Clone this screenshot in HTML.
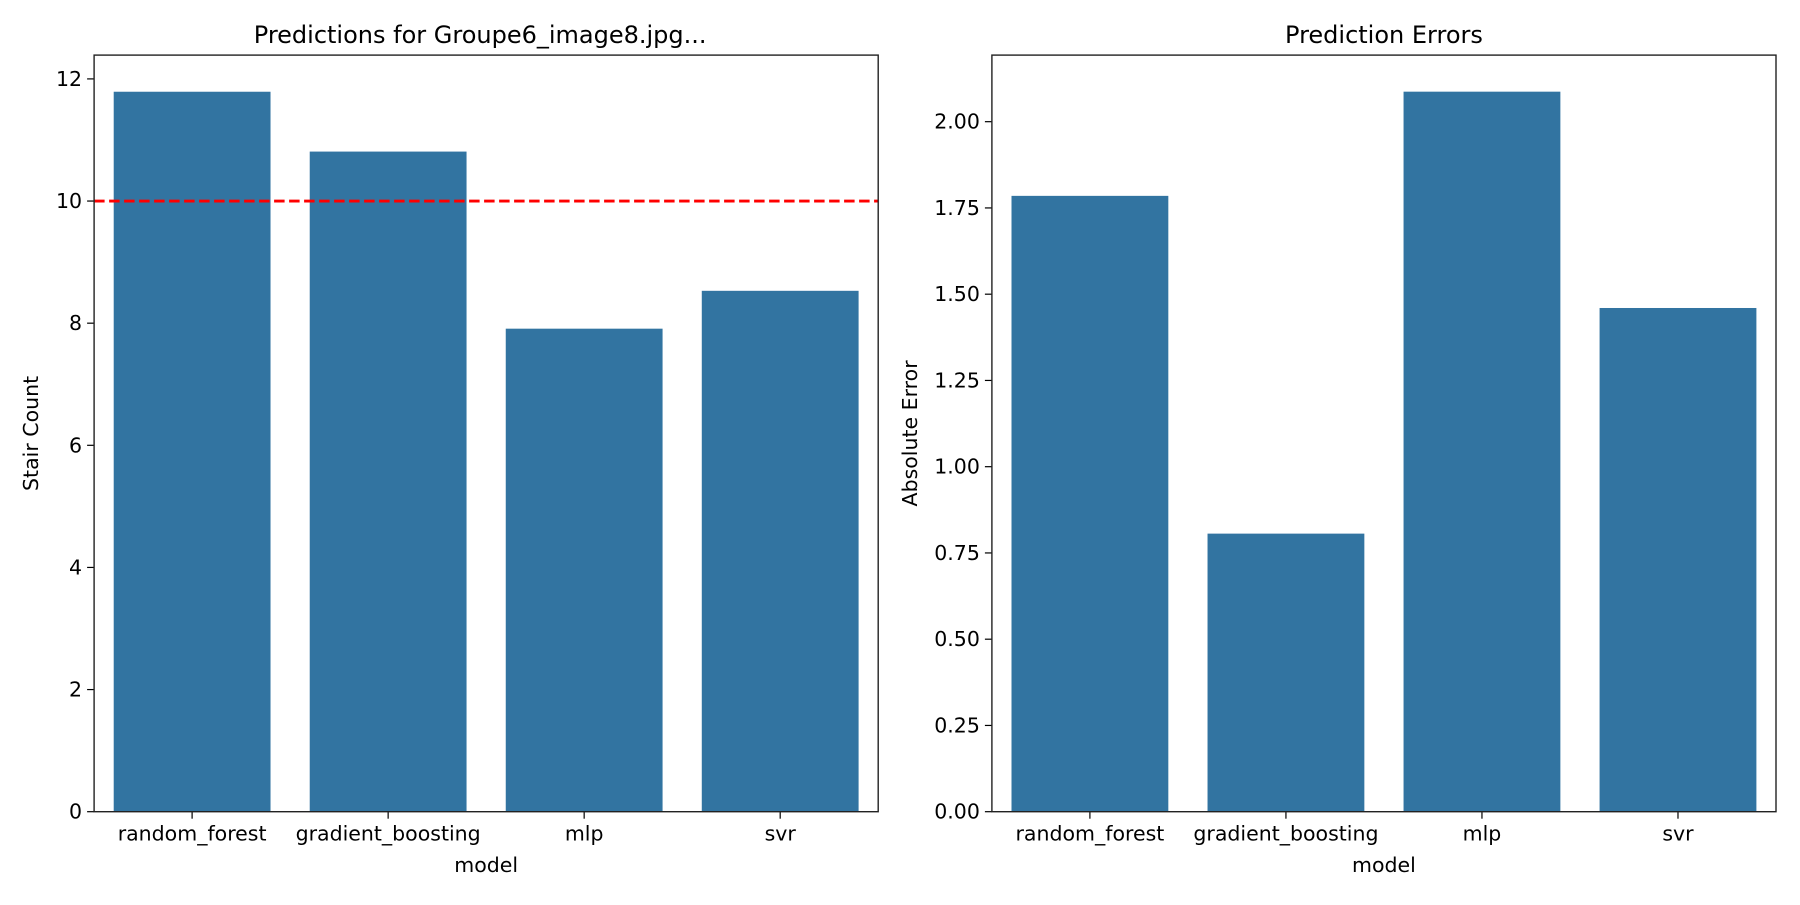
<!DOCTYPE html>
<html><head><meta charset="utf-8"><style>
body{margin:0;background:#fff}
svg text{font-family:"DejaVu Sans","Liberation Sans",sans-serif;fill:#000}
</style></head><body>
<svg id="fig" width="1800" height="900" xmlns="http://www.w3.org/2000/svg"></svg>
<script>
const categories = ["random_forest","gradient_boosting","mlp","svr"];
const predValues = [11.79, 10.81, 7.91, 8.53];
const errValues = [1.785, 0.806, 2.087, 1.460];
const predTicks = [0,2,4,6,8,10,12];
const errTicks = [0,0.25,0.5,0.75,1.0,1.25,1.5,1.75,2.0];
const trueValue = 10;
const NS="http://www.w3.org/2000/svg";
const svg=document.getElementById('fig');
function mk(tag,attrs,parent){const e=document.createElementNS(NS,tag);for(const k in attrs)e.setAttribute(k,attrs[k]);(parent||svg).appendChild(e);return e;}
function panel(o){
  const g=mk('g',{});
  
  
  const y=v=>o.bottom-(v/o.ymax)*(o.bottom-o.top);
  const band=(o.right-o.left)/categories.length;
  const x=i=>o.left+band*(i+0.5);
  o.values.forEach((v,i)=>{
    const r=mk('rect',{x:x(i)-band*0.4,y:y(v),width:band*0.8,height:o.bottom-y(v),fill:'#3274a1'},g);
    
    
  });
  if(o.ref!==undefined){
    const l=mk('line',{x1:o.left,x2:o.right,y1:y(o.ref),y2:y(o.ref),stroke:'#ff0000','stroke-width':2.8,'stroke-dasharray':'10.5,4.5'},g);
    
    
  }
  o.ticks.forEach(t=>{
    mk('line',{x1:o.left-7,x2:o.left,y1:y(t),y2:y(t),stroke:'#000','stroke-width':1.2},g);
    const tx=mk('text',{x:o.left-12,y:y(t)+7,'text-anchor':'end','font-size':20.5},g);
    tx.textContent=o.fmt(t);
    
    
  });
  categories.forEach((c,i)=>{
    mk('line',{x1:x(i),x2:x(i),y1:o.bottom,y2:o.bottom+7,stroke:'#000','stroke-width':1.2},g);
    const tx=mk('text',{x:x(i),y:o.bottom+29,'text-anchor':'middle','font-size':20.5},g);
    tx.textContent=c;
    
    
  });
  const fr=mk('rect',{x:o.left,y:o.top,width:o.right-o.left,height:o.bottom-o.top,fill:'none',stroke:'#222','stroke-width':1.4},g);
  
  
  const ti=mk('text',{x:(o.left+o.right)/2+o.tdx,y:43,'text-anchor':'middle','font-size':24},g);
  ti.textContent=o.title;
  
  
  const xl=mk('text',{x:(o.left+o.right)/2,y:872,'text-anchor':'middle','font-size':20.5},g);
  xl.textContent='model';
  
  
  const yl=mk('text',{x:0,y:0,'text-anchor':'middle','font-size':20.5,transform:`translate(${o.ylx},${(o.top+o.bottom)/2}) rotate(-90)`},g);
  yl.textContent=o.ylabel;
  
  
}
panel({name:'predictions-panel',left:94.1,right:878.2,top:55.1,bottom:811.7,ymax:12.39,values:predValues,ticks:predTicks,fmt:t=>String(t),ref:trueValue,title:'Predictions for Groupe6_image8.jpg...',ylabel:'Stair Count',ylx:38,tdx:-6});
panel({name:'errors-panel',left:991.9,right:1776,top:55.1,bottom:811.7,ymax:2.193,values:errValues,ticks:errTicks,fmt:t=>t.toFixed(2),title:'Prediction Errors',ylabel:'Absolute Error',ylx:917,tdx:0});
</script>
</body></html>
